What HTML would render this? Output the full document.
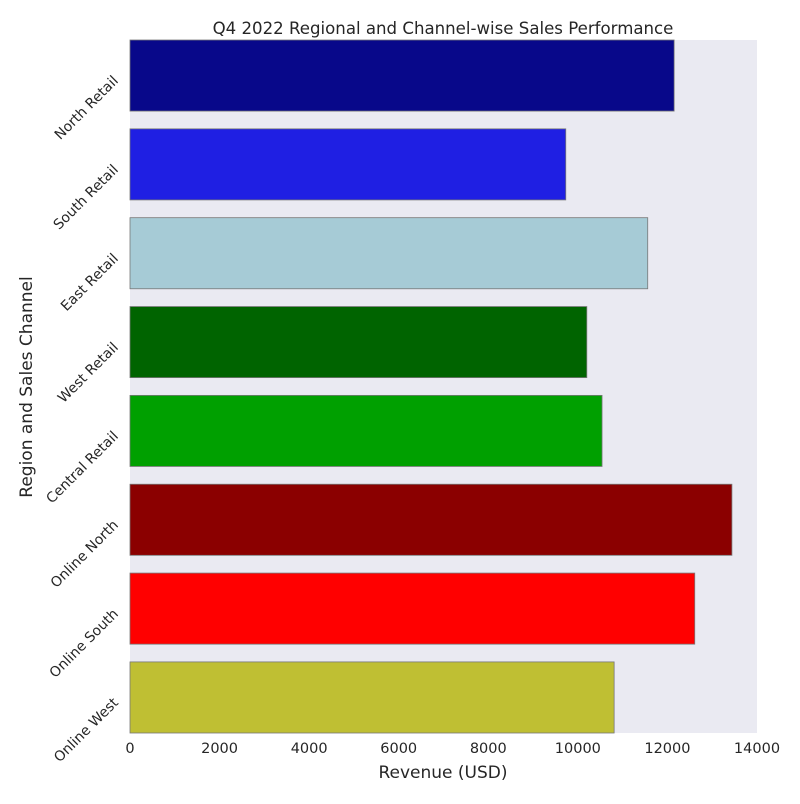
<!DOCTYPE html>
<html><head><meta charset="utf-8"><style>
body{margin:0;background:#fff;font-family:"DejaVu Sans","Liberation Sans",sans-serif}
</style></head><body>
<svg id="chart" width="800" height="800" xmlns="http://www.w3.org/2000/svg" font-family="DejaVu Sans, Liberation Sans, sans-serif">
<rect x="130" y="40" width="627" height="693" fill="#eaeaf2"/>
<g id="bars"></g>
<g id="xticks"></g>
<g id="yticks"></g>
<text x="443" y="34" text-anchor="middle" font-size="16.6" fill="#262626">Q4 2022 Regional and Channel-wise Sales Performance</text>
<text x="443" y="778" text-anchor="middle" font-size="17" fill="#262626">Revenue (USD)</text>
<text transform="translate(32,387) rotate(-90)" text-anchor="middle" font-size="17" fill="#262626">Region and Sales Channel</text>
</svg>
<script>
const categories=["North Retail","South Retail","East Retail","West Retail","Central Retail","Online North","Online South","Online West"];
const revenues=[12150,9730,11560,10200,10540,13440,12610,10810];
const colors=["#08088a","#1f1fe3","#a6cbd6","#006400","#00a000","#8b0000","#ff0000","#bfbf33"];
const xTicks=[0,2000,4000,6000,8000,10000,12000,14000];
const ns="http://www.w3.org/2000/svg";
const X0=130,X1=757,Y0=40,Y1=733,XMAX=14000;
const xs=v=>X0+v/XMAX*(X1-X0);
const unit=(Y1-Y0)/(categories.length-0.2);
const yc=i=>Y0+unit*(0.4+i);
const bh=unit*0.8;
const bars=document.getElementById('bars'),xt=document.getElementById('xticks'),yt=document.getElementById('yticks');
categories.forEach((c,i)=>{
 const r=document.createElementNS(ns,'rect');
 r.setAttribute('x',xs(0));r.setAttribute('y',yc(i)-bh/2);
 r.setAttribute('width',xs(revenues[i])-xs(0));r.setAttribute('height',bh);
 r.setAttribute('fill',colors[i]);r.setAttribute('stroke','#777');r.setAttribute('stroke-width','0.8');
 
 
 bars.appendChild(r);
 const t=document.createElementNS(ns,'text');
 t.setAttribute('transform',`translate(119,${yc(i)+6}) rotate(-45)`);
 t.setAttribute('text-anchor','end');t.setAttribute('font-size','14');t.setAttribute('fill','#262626');
 t.textContent=c;
 
 
 yt.appendChild(t);
});
xTicks.forEach(v=>{
 const t=document.createElementNS(ns,'text');
 t.setAttribute('x',xs(v));t.setAttribute('y',753);t.setAttribute('text-anchor','middle');
 t.setAttribute('font-size','14.5');t.setAttribute('fill','#262626');
 t.textContent=v;
 
 
 xt.appendChild(t);
});
</script>
</body></html>
